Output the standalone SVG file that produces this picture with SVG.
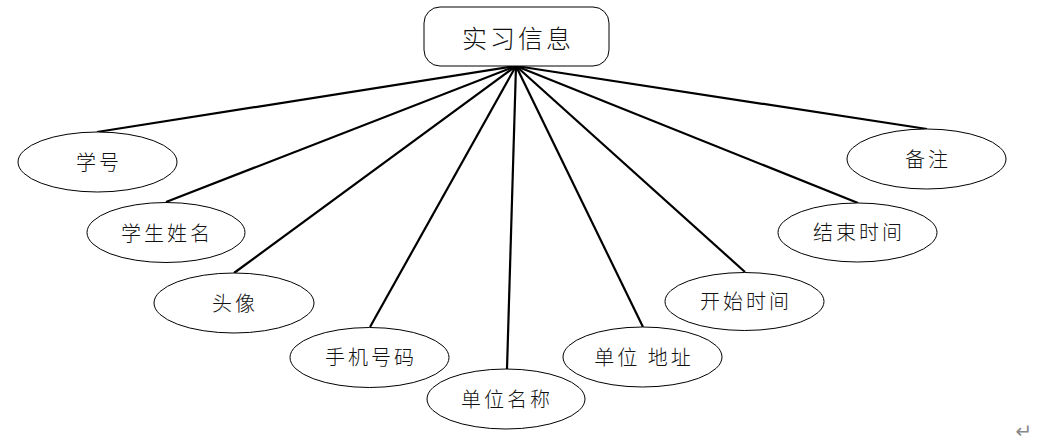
<svg xmlns="http://www.w3.org/2000/svg" width="1051" height="441" viewBox="0 0 1051 441">
<style>
.n ellipse,.n rect{fill:#fff;stroke:#000;stroke-width:1}
.n text{font-family:"Noto Sans CJK SC",sans-serif;font-weight:300;font-size:20px;letter-spacing:3px;fill:#111;text-anchor:middle;dominant-baseline:central}
#edges line{stroke:#000;stroke-width:2.2}
</style>
<rect width="1051" height="441" fill="#fff"/>
<g id="edges">
<line x1="516" y1="66" x2="97" y2="132"/>
<line x1="516" y1="66" x2="166" y2="202"/>
<line x1="516" y1="66" x2="234" y2="273"/>
<line x1="516" y1="66" x2="370" y2="327"/>
<line x1="516" y1="66" x2="507" y2="369"/>
<line x1="516" y1="66" x2="643" y2="327"/>
<line x1="516" y1="66" x2="745" y2="272"/>
<line x1="516" y1="66" x2="858" y2="203"/>
<line x1="516" y1="66" x2="927" y2="129"/>
</g>
<g id="root" class="n"><rect x="424" y="7" width="185" height="59" rx="16"/><text x="518" y="37" style="font-size:25px">实习信息</text></g>
<g id="n1" class="n"><ellipse cx="97.5" cy="162" rx="79.5" ry="30"/><text x="99" y="161">学号</text></g>
<g id="n2" class="n"><ellipse cx="166" cy="232.5" rx="79" ry="30"/><text x="167" y="232">学生姓名</text></g>
<g id="n3" class="n"><ellipse cx="234" cy="303" rx="80" ry="30"/><text x="235" y="302">头像</text></g>
<g id="n4" class="n"><ellipse cx="369.5" cy="357.5" rx="79.5" ry="30"/><text x="371" y="356">手机号码</text></g>
<g id="n5" class="n"><ellipse cx="506" cy="399" rx="79" ry="30"/><text x="507" y="398">单位名称</text></g>
<g id="n6" class="n"><ellipse cx="642.5" cy="357" rx="79.5" ry="30"/><text x="644" y="356">单位 地址</text></g>
<g id="n7" class="n"><ellipse cx="744.5" cy="301.5" rx="79.5" ry="29"/><text x="746" y="300">开始时间</text></g>
<g id="n8" class="n"><ellipse cx="857.5" cy="232.5" rx="79.5" ry="29.5"/><text x="859" y="231">结束时间</text></g>
<g id="n9" class="n"><ellipse cx="926.5" cy="159" rx="79.5" ry="30"/><text x="928" y="158">备注</text></g>
<text x="1024" y="438" style="font-family:'DejaVu Sans',sans-serif;font-size:20px;fill:#888;text-anchor:middle">↵</text>
</svg>
